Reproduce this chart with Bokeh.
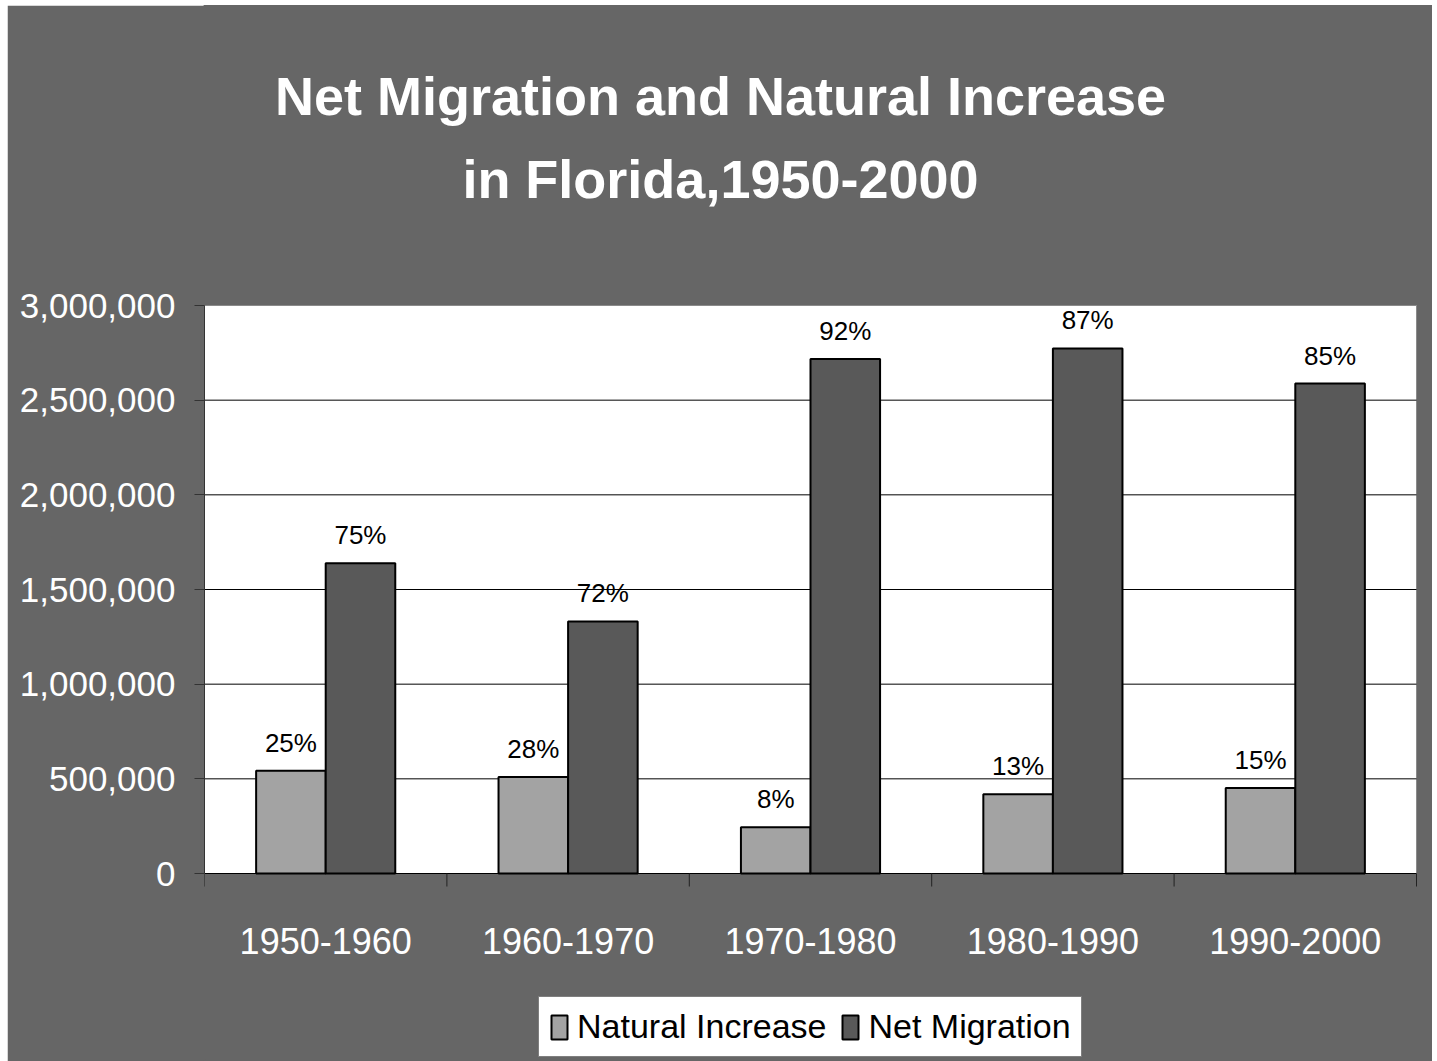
from bokeh.plotting import figure
from bokeh.models import (ColumnDataSource, FixedTicker, NumeralTickFormatter, LabelSet, Label,
                          Legend, LegendItem, Range1d)
from bokeh.core.properties import value
from bokeh.embed import file_html
from bokeh.resources import INLINE
import numpy as np

# Florida population growth components by decade
periods = ["1950-1960", "1960-1970", "1970-1980", "1980-1990", "1990-2000"]
natural_increase = [543000, 510000, 244000, 418000, 452000]
net_migration = [1638000, 1331000, 2718000, 2773000, 2588000]
natural_pct = ["25%", "28%", "8%", "13%", "15%"]
migration_pct = ["75%", "72%", "92%", "87%", "85%"]
y_ticks = [0, 500000, 1000000, 1500000, 2000000, 2500000, 3000000]

FONT = "Liberation Sans"
BG = "#666666"
LIGHT = "#a3a3a3"
DARK = "#595959"

# page layout in pixels: the frame fills the grey panel; the white plot box sits inside it
W, H = 1425, 1056
LEFT = 197                     # room for the value axis
BOX_W, BOX_H = 1212, 568       # white plot box
BOX_BOTTOM = 188               # distance from frame bottom to the zero line
y_max = y_ticks[-1]
n = len(periods)
per_px_y = y_max / BOX_H
per_px_x = n / BOX_W
frame_w = W - LEFT
y_start = -BOX_BOTTOM * per_px_y
y_end = (H - BOX_BOTTOM) * per_px_y
x_end = frame_w * per_px_x

bar_w = 0.287
centers = np.arange(n) + 0.5
bounds = np.arange(n + 1)

ni_src = ColumnDataSource(dict(x=centers - bar_w / 2, top=natural_increase, pct=natural_pct))
nm_src = ColumnDataSource(dict(x=centers + bar_w / 2, top=net_migration, pct=migration_pct))

p = figure(width=W, height=H, output_backend="svg", toolbar_location=None,
           x_range=Range1d(0, x_end), y_range=Range1d(y_start, y_end),
           min_border_left=LEFT, min_border_right=0, min_border_top=0, min_border_bottom=0,
           margin=(5, 5, 0, 7), x_axis_location=None)
p.background_fill_color = BG
p.border_fill_color = BG
p.outline_line_color = BG
p.outline_line_width = 2
p.grid.grid_line_color = None

# white plot box and horizontal rules
p.quad(left=0, right=n, bottom=0, top=y_max, fill_color="white",
       line_color="#8a8a8a", line_width=1)
p.segment(x0=0, x1=n, y0=y_ticks[:-1], y1=y_ticks[:-1], line_color="black", line_width=1)

# category boundary ticks below the zero line
tick_len = 13 * per_px_y
p.segment(x0=bounds, x1=bounds, y0=0, y1=-tick_len, line_color="#222222", line_width=1)

r_ni = p.vbar(x="x", top="top", width=bar_w, source=ni_src, fill_color=LIGHT,
              line_color="black", line_width=2)
r_nm = p.vbar(x="x", top="top", width=bar_w, source=nm_src, fill_color=DARK,
              line_color="black", line_width=2)

for src in (ni_src, nm_src):
    p.add_layout(LabelSet(x="x", y="top", text="pct", source=src, y_offset=19,
                          text_align="center", text_baseline="alphabetic",
                          text_font=value(FONT), text_font_size="26px", text_color="black"))

# category names under each group
cat_src = ColumnDataSource(dict(x=centers, y=[0] * n, name=periods))
p.add_layout(LabelSet(x="x", y="y", text="name", source=cat_src, y_offset=-80,
                      text_align="center", text_baseline="alphabetic",
                      text_font=value(FONT), text_font_size="36px", text_color="white"))

# value axis
p.yaxis.bounds = (0, y_max)
p.yaxis.ticker = FixedTicker(ticks=y_ticks)
p.yaxis.formatter = NumeralTickFormatter(format="0,0")
p.yaxis.major_label_text_font = FONT
p.yaxis.major_label_text_font_size = "35px"
p.yaxis.major_label_text_color = "white"
p.yaxis.major_tick_out = 10
p.yaxis.major_tick_in = 0
p.yaxis.minor_tick_out = 0
p.yaxis.minor_tick_in = 0
p.yaxis.major_label_standoff = 19
p.yaxis.axis_line_color = "#333333"
p.yaxis.major_tick_line_color = "#333333"

# two-line title
for txt, yy in (("Net Migration and Natural Increase", H - 90),
                ("in Florida,1950-2000", H - 173)):
    p.add_layout(Label(x=720 - 7 - LEFT, y=yy, x_units="screen", y_units="screen", text=txt,
                       text_align="center", text_baseline="alphabetic", text_font=FONT,
                       text_font_style="bold", text_font_size="54px", text_color="white"))

legend = Legend(items=[LegendItem(label="Natural Increase", renderers=[r_ni]),
                       LegendItem(label="Net Migration", renderers=[r_nm])],
                orientation="horizontal", location=(538 - 7 - LEFT, 4),
                label_text_font=FONT, label_text_font_size="34px", label_text_color="black",
                glyph_width=20, glyph_height=30, label_standoff=8, spacing=14,
                padding=10, margin=0, border_line_color="black", border_line_width=1,
                background_fill_color="white", background_fill_alpha=1.0)
p.add_layout(legend, "center")

open("out.html", "w").write(file_html(p, INLINE))
